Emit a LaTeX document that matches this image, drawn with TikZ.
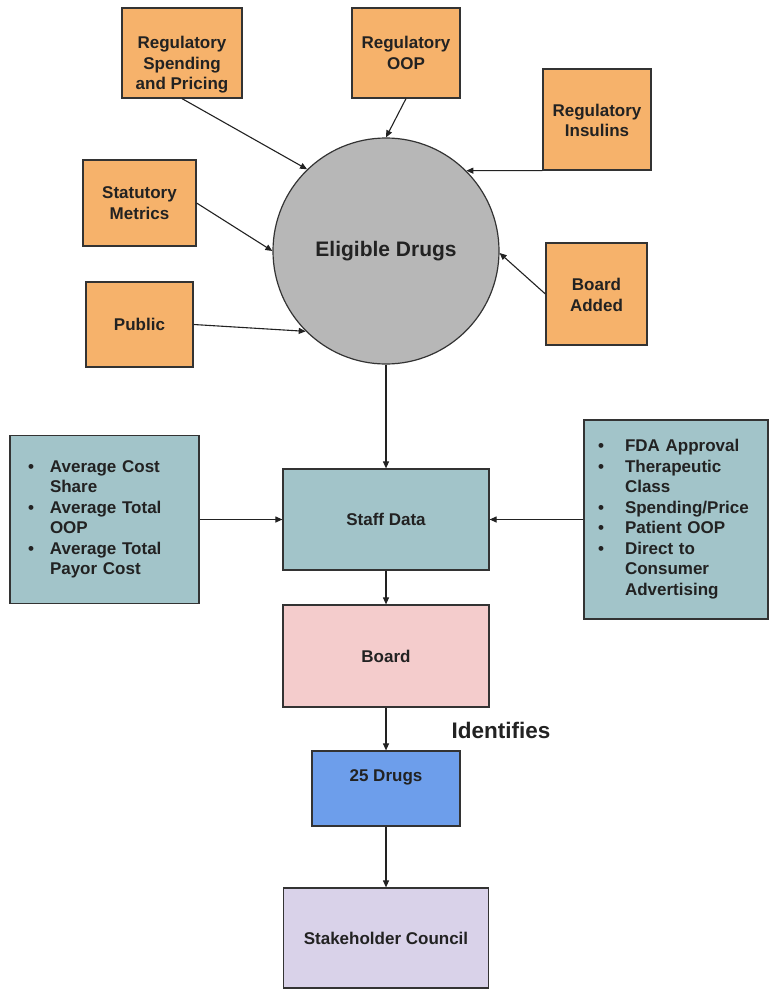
\documentclass[tikz,border=0pt]{standalone}
\usepackage{fontspec}
\setmainfont{Liberation Sans}
\usepackage{xcolor}
\usepackage{tikz}
\usetikzlibrary{arrows.meta}
\definecolor{boxorange}{HTML}{F6B26B}
\definecolor{circlegray}{HTML}{B7B7B7}
\definecolor{staffteal}{HTML}{A2C4C9}
\definecolor{boardpink}{HTML}{F4CCCC}
\definecolor{drugblue}{HTML}{6D9EEB}
\definecolor{councillilac}{HTML}{D9D2E9}
\definecolor{edgegray}{HTML}{333333}
\definecolor{inkdark}{HTML}{222222}

\tikzset{
  flowbox/.style={draw=edgegray, line width=1.2pt, text=inkdark, align=center,
                  inner sep=0pt, font=\fontsize{17}{20.5}\selectfont\bfseries},
  flowarrow/.style={draw=inkdark, line width=1.1pt,
                    -{Triangle[length=7pt,width=6pt]}}
}

\begin{document}
\begin{tikzpicture}[x=1pt, y=-1pt]
    \useasboundingbox (0,0) rectangle (769,990);

    \node[flowbox, circle, fill=circlegray, minimum size=226pt,
          font=\fontsize{21}{25}\selectfont\bfseries] (eligible) at (386,251) {Eligible Drugs};

    \node[flowbox, fill=boxorange, minimum width=120pt, minimum height=90pt]
         (regspend) at (182,53) {\\[16pt]Regulatory\\Spending\\and Pricing};
    \node[flowbox, fill=boxorange, minimum width=108pt, minimum height=90pt]
         (regoop) at (406,53) {Regulatory\\OOP};
    \node[flowbox, fill=boxorange, minimum width=108pt, minimum height=101pt]
         (reginsulin) at (597,119.5) {\\[-6pt]Regulatory\\Insulins};
    \node[flowbox, fill=boxorange, minimum width=113pt, minimum height=86pt]
         (statmetrics) at (139.5,203) {Statutory\\Metrics};
    \node[flowbox, fill=boxorange, minimum width=107pt, minimum height=85pt]
         (public) at (139.5,324.5) {Public};
    \node[flowbox, fill=boxorange, minimum width=101pt, minimum height=102pt]
         (boardadded) at (596.5,294) {\\[-6pt]Board\\Added};

    \node[flowbox, fill=staffteal, minimum width=206pt, minimum height=101pt]
         (staffdata) at (386,519.5) {Staff Data};
    \node[flowbox, fill=staffteal, minimum width=189pt, minimum height=168pt,
          inner xsep=18pt, text width=153pt, align=left] (costdata) at (104.5,519.5) {%
      \begin{tabular}{@{}p{22pt}@{}l@{}}
        \textbullet & Average Cost\\
                    & Share\\
        \textbullet & Average Total\\
                    & OOP\\
        \textbullet & Average Total\\
                    & Payor Cost
      \end{tabular}};
    \node[flowbox, fill=staffteal, minimum width=184pt, minimum height=199pt,
          inner xsep=14pt, text width=156pt, align=left] (drugdata) at (676,519.5) {%
      \begin{tabular}{@{}p{27pt}@{}l@{}}
        \textbullet & FDA Approval\\
        \textbullet & Therapeutic\\
                    & Class\\
        \textbullet & Spending/Price\\
        \textbullet & Patient OOP\\
        \textbullet & Direct to\\
                    & Consumer\\
                    & Advertising
      \end{tabular}};

    \node[flowbox, fill=boardpink, minimum width=206pt, minimum height=102pt]
         (board) at (386,656) {Board};
    \node[text=inkdark, font=\fontsize{22.5}{27}\selectfont\bfseries]
         (identifies) at (501,730) {Identifies};
    \node[flowbox, fill=drugblue, minimum width=148pt, minimum height=75pt,
          text depth=26pt] (drugs) at (386,788.5) {25 Drugs};
    \node[flowbox, fill=councillilac, minimum width=205pt, minimum height=100pt]
         (council) at (386,938) {Stakeholder Council};

    \draw[flowarrow] (regspend.south) -- (eligible.134);
    \draw[flowarrow] (regoop.south) -- (eligible.north);
    \draw[flowarrow] (reginsulin.south west) -- (eligible.45.7);
    \draw[flowarrow] (statmetrics.east) -- (eligible.west);
    \draw[flowarrow] (public.east) -- (eligible.225);
    \draw[flowarrow] (boardadded.west) -- (eligible.-1);

    \draw[flowarrow] (eligible.south) -- (staffdata.north);
    \draw[flowarrow] (costdata.east) -- (staffdata.west);
    \draw[flowarrow] (drugdata.west) -- (staffdata.east);
    \draw[flowarrow] (staffdata.south) -- (board.north);
    \draw[flowarrow] (board.south) -- (drugs.north);
    \draw[flowarrow] (drugs.south) -- (council.north);
\end{tikzpicture}
\end{document}
